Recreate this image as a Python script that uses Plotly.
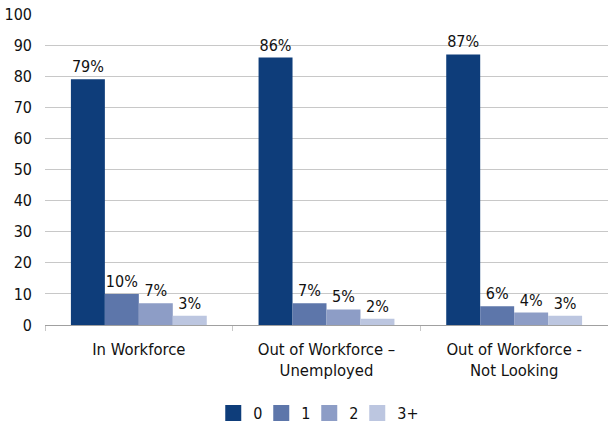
import plotly.graph_objects as go

categories = ["In Workforce", "Out of Workforce –<br>Unemployed", "Out of Workforce -<br>Not Looking"]
series_names = ["0", "1", "2", "3+"]
values_0 = [79, 86, 87]
values_1 = [10, 7, 6]
values_2 = [7, 5, 4]
values_3 = [3, 2, 3]
series_values = [values_0, values_1, values_2, values_3]
colors = ["#0e3d7a", "#5d76aa", "#8d9dc6", "#bcc6e0"]
y_ticks = list(range(0, 101, 10))

FONT = "DejaVu Sans Condensed, Liberation Sans Narrow, Liberation Sans, Arial, sans-serif"

fig = go.Figure()
for name, vals, col in zip(series_names, series_values, colors):
    fig.add_trace(go.Bar(
        x=categories, y=vals, name=name, marker=dict(color=col, line=dict(width=0)),
        text=[f"{v}%" for v in vals], textposition="outside", cliponaxis=False,
        textfont=dict(family=FONT, size=16, color="#111111"),
        showlegend=False,
    ))
# legend entries with square markers
for name, col in zip(series_names, colors):
    fig.add_trace(go.Scatter(
        x=[None], y=[None], mode="markers", name=name,
        marker=dict(symbol="square", size=18, color=col),
        showlegend=True,
    ))
# invisible spacer entry so the last legend label is not clipped
fig.add_trace(go.Scatter(
    x=[None], y=[None], mode="markers", name=" ",
    marker=dict(symbol="square", size=18, color="rgba(0,0,0,0)"),
    showlegend=True, hoverinfo="skip",
))

fig.update_layout(
    width=608, height=426,
    margin=dict(l=45, r=0, t=14, b=101, autoexpand=False),
    plot_bgcolor="white", paper_bgcolor="white",
    barmode="group", bargap=0.276, bargroupgap=0,
    font=dict(family=FONT, size=16, color="#111111"),
    legend=dict(orientation="h", x=0.512, xanchor="center", y=-0.283, yanchor="middle",
                font=dict(family=FONT, size=16, color="#111111"),
                itemwidth=30, entrywidth=3, tracegroupgap=0),
    xaxis=dict(
        automargin=False,
        showgrid=False, showline=True, linecolor="#a0a0a0", linewidth=1,
        ticks="outside", tickson="boundaries", ticklen=5, tickcolor="#c8c8c8",
        tickfont=dict(family=FONT, size=16.5, color="#111111"),
        ticklabelstandoff=9,
    ),
    yaxis=dict(
        automargin=False,
        range=[0, 100], tickvals=y_ticks, showgrid=True, gridcolor="#c8c8c8", gridwidth=1,
        zeroline=False, showline=False, ticks="",
        tickfont=dict(family=FONT, size=16, color="#111111"),
        ticklabelstandoff=12,
    ),
)

fig.write_html("out.html", config={"displayModeBar": False},
               post_script="document.body.style.margin='0';")
